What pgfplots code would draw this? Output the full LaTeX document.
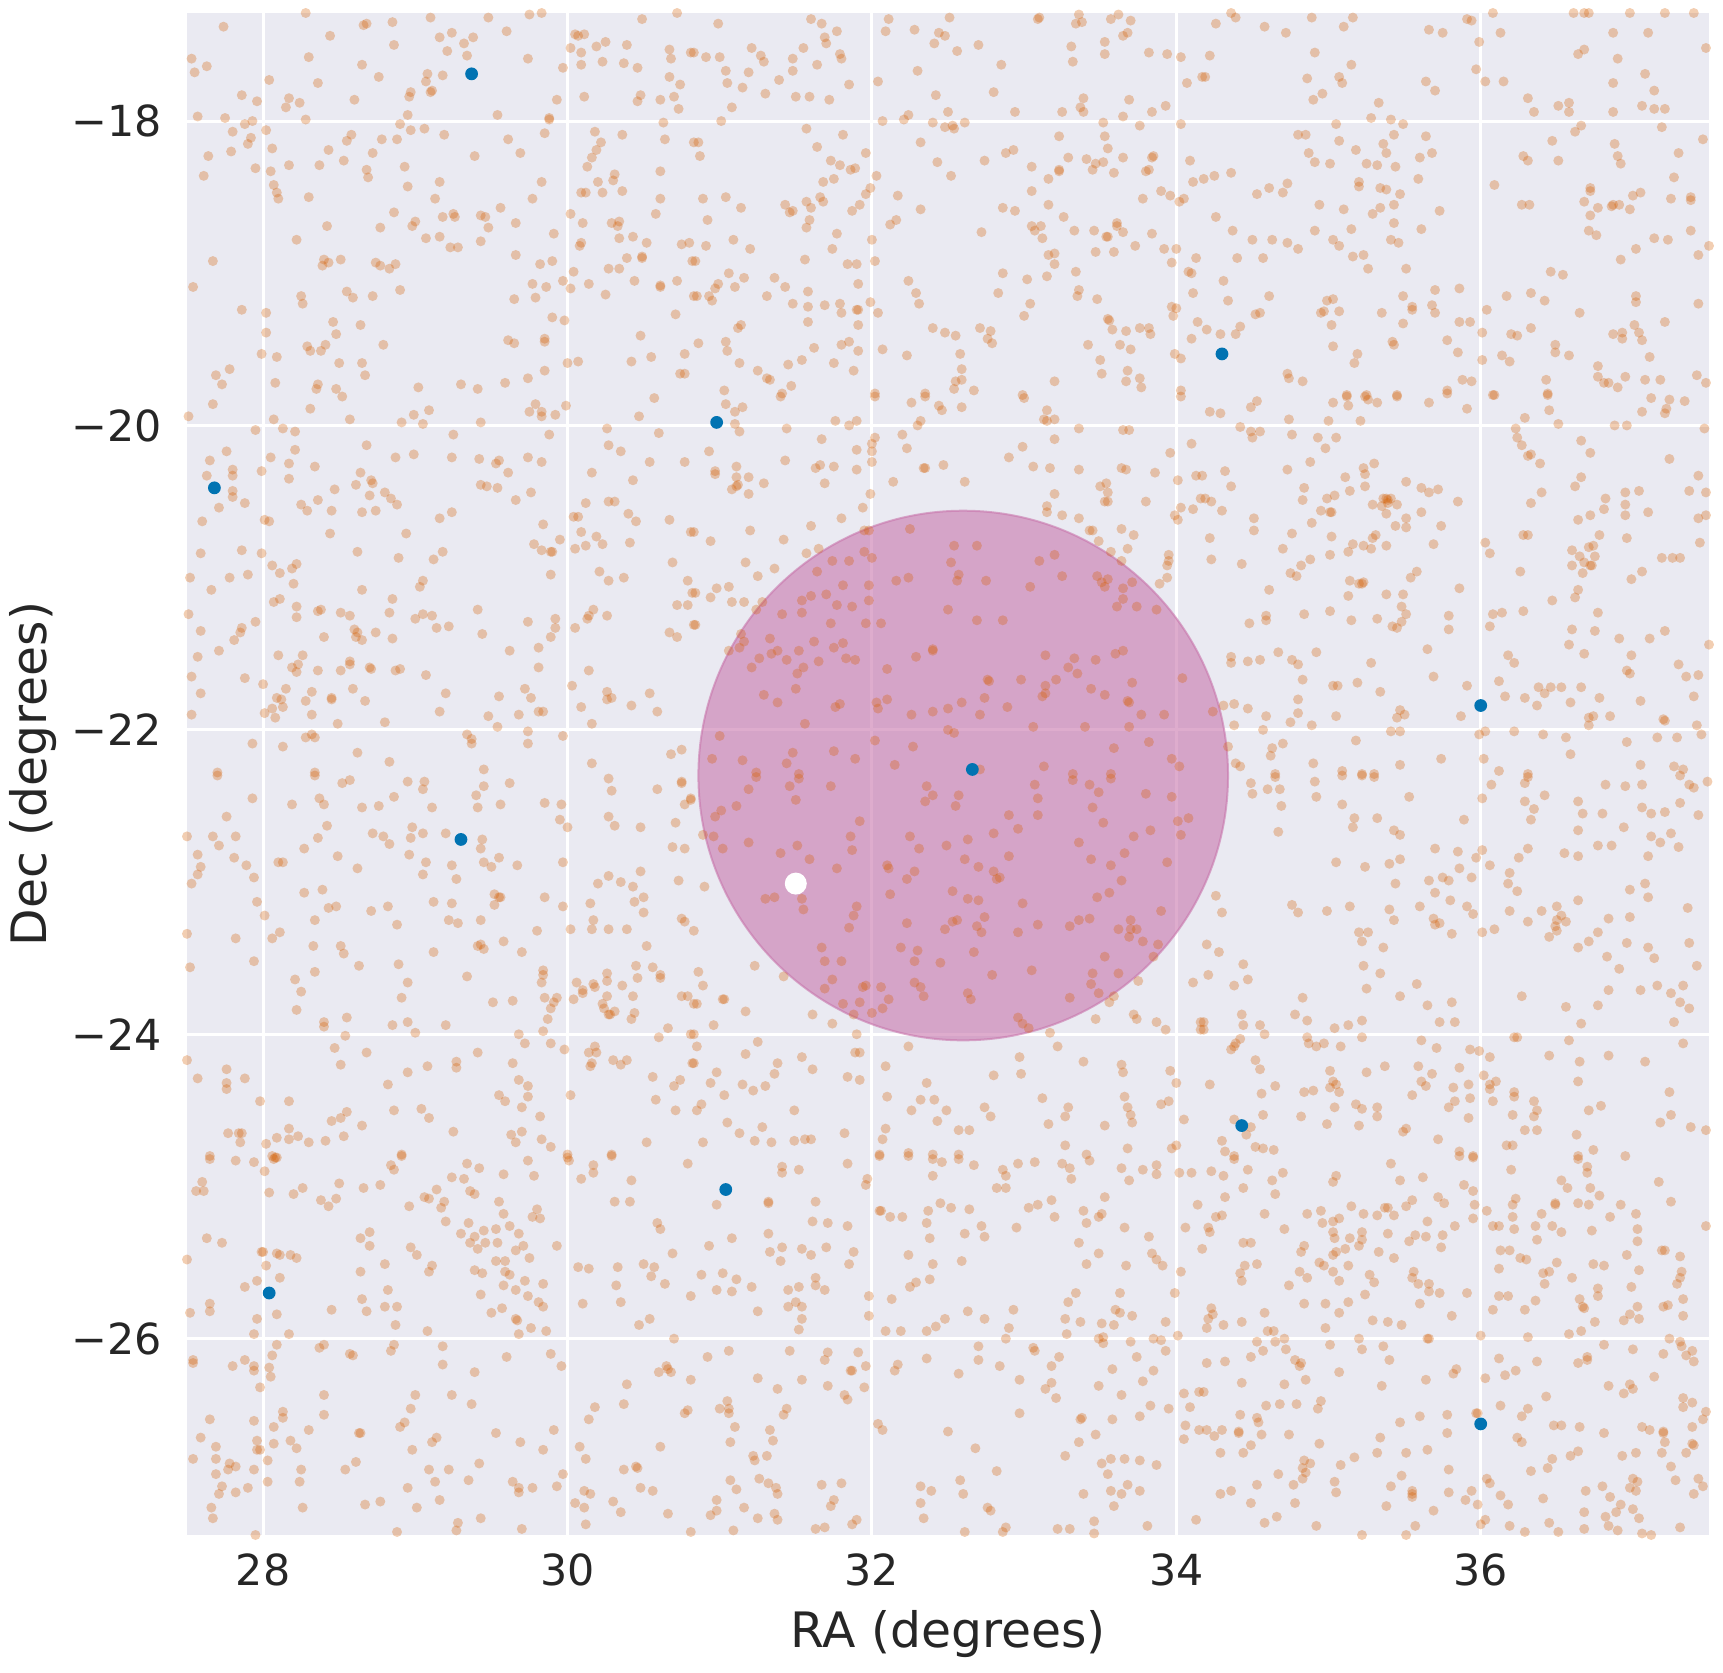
\documentclass[border=0pt]{standalone}
\usepackage{fontspec}
\setmainfont{DejaVu Sans}
\usepackage{pgfplots}
\pgfplotsset{compat=1.18}

\definecolor{sbbg}{HTML}{EAEAF2}
\definecolor{cbblue}{HTML}{0173B2}
\definecolor{cbverm}{HTML}{D55E00}
\definecolor{circcol}{RGB}{200,118,172}

\begin{document}
\begin{tikzpicture}
\begin{axis}[
  width=380.5pt, height=380.5pt, scale only axis,
  xmin=27.5, xmax=37.5, ymin=-27.29, ymax=-17.29,
  axis background/.style={fill=sbbg},
  axis line style={draw=none},
  major tick length=0pt,
  grid=major, major grid style={white, line width=0.75pt},
  xtick={28,30,32,34,36}, xticklabels={28,30,32,34,36},
  ytick={-26,-24,-22,-20,-18}, yticklabels={−26,−24,−22,−20,−18},
  tick label style={font=\fontsize{10.7}{12}\selectfont, text=black!85},
  xticklabel style={anchor=north, inner sep=0pt, yshift=-4.4pt},
  yticklabel style={anchor=east, inner sep=0pt, xshift=-6.1pt},
  xlabel={RA (degrees)}, ylabel={Dec (degrees)},
  label style={font=\fontsize{12.2}{14}\selectfont, text=black!85, inner sep=0pt},
  xlabel style={at={(axis description cs:0.5,-0.0742)}, anchor=base},
  ylabel style={at={(axis description cs:-0.1012,0.5)}, anchor=center},
  clip=true,
]

% search region
\addplot[only marks, mark=*, mark size=66.2pt, color=circcol,
  mark options={fill=circcol, fill opacity=0.6, draw opacity=0.6, line width=0.5pt}]
  coordinates {(32.60,-22.30)};

% field objects
\addplot[only marks, mark=*, mark size=1.25pt, color=cbverm,
  mark options={fill=cbverm, fill opacity=0.3, draw opacity=0}]
coordinates {
(28.28,-17.29) (27.74,-17.38) (28.68,-17.36) (28.66,-17.37) (28.85,-17.35) (29.10,-17.32) (29.48,-17.32) (29.75,-17.30) (29.83,-17.29) (30.49,-17.33) (30.72,-17.29)
(28.44,-17.44) (29.16,-17.45) (29.24,-17.42) (29.32,-17.49) (29.38,-17.45) (29.60,-17.41) (30.05,-17.43) (30.07,-17.44) (30.11,-17.43)
(28.86,-17.50) (30.02,-17.52) (30.19,-17.51) (30.25,-17.48) (30.39,-17.50) (30.67,-17.53) (30.81,-17.55)
(27.53,-17.59) (27.63,-17.64) (27.55,-17.68) (28.30,-17.58) (28.65,-17.63) (29.21,-17.54) (29.34,-17.57) (29.74,-17.59) (30.09,-17.55) (30.09,-17.63) (29.97,-17.65) (30.23,-17.61) (30.37,-17.62) (30.46,-17.65) (30.68,-17.59)
(28.76,-17.71) (29.08,-17.69) (29.07,-17.74) (29.18,-17.70) (28.04,-17.73) (28.36,-17.75) (30.67,-17.71) (30.74,-17.76)
(27.86,-17.83) (27.96,-17.87) (28.17,-17.85) (28.15,-17.91) (28.24,-17.88) (28.60,-17.86) (28.97,-17.81) (28.96,-17.84) (29.11,-17.80) (29.10,-17.81) (29.93,-17.86) (30.11,-17.84) (30.48,-17.83) (30.46,-17.87) (30.61,-17.86) (30.70,-17.84) (30.73,-17.92)
(27.57,-17.97) (27.75,-17.98) (27.88,-18.02) (27.93,-18.00) (28.28,-17.99) (28.95,-17.96) (29.54,-17.96) (29.88,-17.99) (29.88,-17.98) (30.63,-18.01)
(27.80,-18.07) (28.02,-18.06) (27.92,-18.11) (27.90,-18.15) (28.58,-18.09) (28.55,-18.13) (28.78,-18.12) (28.88,-18.12) (28.90,-18.02) (28.97,-18.06) (29.06,-18.05) (29.19,-18.09) (29.61,-18.12) (29.85,-18.08) (30.18,-18.07) (30.36,-18.09) (30.22,-18.14) (30.64,-18.12) (30.83,-18.14)
(27.64,-18.23) (27.79,-18.20) (28.06,-18.18) (28.43,-18.19) (28.72,-18.21) (29.39,-18.23) (29.69,-18.21) (30.19,-18.19) (30.16,-18.24)
(27.61,-18.36) (27.95,-18.31) (28.05,-18.33) (28.17,-18.29) (28.37,-18.29) (28.53,-18.26) (28.68,-18.32) (28.69,-18.37) (28.93,-18.30) (30.13,-18.30) (30.31,-18.35) (30.30,-18.39) (30.61,-18.33)
(28.07,-18.42) (28.09,-18.47) (28.10,-18.51) (28.95,-18.43) (29.16,-18.40) (29.83,-18.40) (30.20,-18.40) (30.09,-18.47) (30.12,-18.47) (30.23,-18.47) (30.36,-18.46)
(28.30,-18.50) (29.13,-18.51) (29.56,-18.57) (29.77,-18.51) (30.61,-18.51)
(28.86,-18.60) (28.77,-18.70) (28.42,-18.69) (29.00,-18.66) (28.98,-18.69) (29.18,-18.63) (29.25,-18.61) (29.26,-18.63) (29.43,-18.62) (29.46,-18.63) (29.48,-18.70) (29.66,-18.67) (30.02,-18.61) (30.10,-18.67) (30.29,-18.67) (30.33,-18.69) (30.34,-18.66) (30.58,-18.61)
(28.22,-18.78) (29.07,-18.77) (29.16,-18.76) (29.23,-18.83) (29.28,-18.83) (29.43,-18.79) (29.91,-18.74) (30.09,-18.80) (30.08,-18.82) (30.34,-18.77) (30.43,-18.76) (30.52,-18.80) (30.75,-18.81) (30.80,-18.80)
(27.67,-18.92) (28.40,-18.91) (28.39,-18.95) (28.43,-18.93) (28.51,-18.91) (28.74,-18.93) (28.77,-18.95) (28.83,-18.97) (28.87,-18.94) (29.66,-18.88) (29.82,-18.94) (29.90,-18.92) (30.27,-18.97) (30.34,-18.97) (30.39,-18.90) (30.49,-18.89) (30.49,-18.90) (30.82,-18.92)
(27.54,-19.09) (28.25,-19.15) (28.26,-19.20) (28.55,-19.12) (28.59,-19.16) (28.72,-19.15) (28.90,-19.11) (29.65,-19.17) (29.77,-19.07) (29.79,-19.16) (29.86,-19.09) (29.97,-19.05) (30.02,-19.10) (30.04,-18.99) (30.14,-19.07) (30.25,-19.14) (30.44,-19.05) (30.61,-19.08) (30.61,-19.09) (30.72,-19.05) (30.83,-19.15)
(27.86,-19.24) (28.02,-19.26) (28.46,-19.32) (28.48,-19.40) (28.64,-19.34) (29.90,-19.29) (29.98,-19.31) (30.71,-19.27)
(28.02,-19.39) (28.29,-19.48) (28.31,-19.51) (28.38,-19.51) (28.41,-19.47) (28.79,-19.47) (29.61,-19.44) (29.65,-19.46) (29.85,-19.43) (29.85,-19.45) (30.48,-19.41)
(27.99,-19.53) (28.09,-19.55) (28.50,-19.59) (28.65,-19.59) (30.00,-19.59) (30.07,-19.58) (30.42,-19.58) (30.55,-19.55) (30.77,-19.53)
(27.69,-19.67) (27.78,-19.63) (27.73,-19.73) (28.08,-19.72) (28.36,-19.73) (28.35,-19.76) (28.48,-19.76) (28.67,-19.67) (29.02,-19.75) (29.30,-19.73) (29.41,-19.76) (29.59,-19.72) (29.74,-19.69) (29.85,-19.64) (30.74,-19.66) (30.77,-19.66)
%
(30.99,-17.36) (31.60,-17.33) (31.67,-17.36) (31.77,-17.41) (31.69,-17.45) (31.70,-17.49) (32.11,-17.33) (32.09,-17.41) (32.28,-17.40) (32.44,-17.42) (32.48,-17.44) (32.41,-17.49) (32.51,-17.32) (32.56,-17.54) (32.70,-17.50)
(33.09,-17.33) (33.10,-17.32) (33.34,-17.36) (33.38,-17.35) (33.36,-17.30) (33.57,-17.33) (33.62,-17.30) (33.70,-17.34) (33.65,-17.44) (33.68,-17.42) (33.53,-17.48) (33.53,-17.56) (33.31,-17.51) (33.32,-17.61)
(30.83,-17.55) (30.91,-17.58) (31.00,-17.58) (31.21,-17.52) (31.27,-17.57) (31.29,-17.61) (31.48,-17.59) (31.55,-17.52) (31.64,-17.63) (31.79,-17.56) (31.80,-17.59)
(31.04,-17.67) (31.19,-17.68) (31.48,-17.67) (31.05,-17.75) (31.15,-17.78) (31.39,-17.73) (31.30,-17.82) (31.50,-17.84) (31.59,-17.84) (31.72,-17.86) (31.85,-17.76) (31.08,-17.91) (31.01,-18.00)
(32.04,-17.74) (32.30,-17.67) (32.85,-17.63) (32.42,-17.83) (32.80,-17.81) (32.50,-17.94) (32.94,-17.94) (33.25,-17.94) (33.39,-17.85) (33.37,-17.91) (33.39,-17.94) (33.69,-17.86) (33.65,-17.97) (33.84,-17.94) (33.93,-17.90)
(33.82,-17.55) (33.94,-17.56) (34.03,-17.58) (34.07,-17.75) (34.17,-17.71)
(32.07,-18.00) (32.21,-17.99) (32.24,-17.96) (32.40,-18.01) (32.48,-18.04) (32.53,-18.03) (32.54,-18.05) (32.61,-18.01) (33.52,-18.01) (33.53,-18.10) (33.55,-18.18) (33.76,-18.03) (34.03,-18.02)
(31.57,-18.05) (31.81,-18.09) (30.86,-18.14) (30.87,-18.23) (31.64,-18.17) (31.73,-18.26) (31.79,-18.29) (31.86,-18.32) (31.89,-18.31) (31.96,-18.21) (32.32,-18.14) (32.43,-18.27) (32.52,-18.36) (32.74,-18.26) (32.88,-18.21) (32.93,-18.19)
(33.05,-18.30) (33.23,-18.10) (33.29,-18.24) (33.23,-18.32) (33.23,-18.33) (33.16,-18.38) (33.41,-18.25) (33.47,-18.28) (33.45,-18.32) (33.52,-18.27) (33.59,-18.34) (33.65,-18.24) (33.85,-18.23) (33.84,-18.24) (33.80,-18.33) (33.82,-18.32) (34.09,-18.26) (34.11,-18.40)
(32.03,-18.36) (31.68,-18.40) (31.75,-18.38) (31.99,-18.44) (31.96,-18.48) (30.89,-18.51) (31.04,-18.50) (31.14,-18.57) (31.43,-18.55) (31.46,-18.60) (31.48,-18.59) (31.57,-18.53) (31.60,-18.57) (31.66,-18.50) (31.68,-18.53) (31.92,-18.55) (31.87,-18.59)
(30.92,-18.65) (31.59,-18.65) (31.57,-18.70) (32.17,-18.49) (32.32,-18.58) (32.16,-18.65) (32.12,-18.68) (32.86,-18.57) (32.94,-18.59) (33.05,-18.46) (33.16,-18.55) (33.26,-18.63)
(33.05,-18.69) (33.07,-18.72) (33.11,-18.69) (33.12,-18.77) (32.72,-18.73) (33.33,-18.72) (33.46,-18.72) (33.54,-18.76) (33.55,-18.76) (33.61,-18.67) (33.61,-18.69) (33.65,-18.73)
(33.78,-18.51) (33.90,-18.46) (33.96,-18.49) (34.02,-18.53) (34.05,-18.51) (33.84,-18.74) (33.73,-18.82) (33.47,-18.86) (33.59,-18.86) (33.92,-18.84) (34.00,-18.84) (33.97,-18.93) (34.13,-18.90) (34.08,-18.99) (34.10,-19.00) (34.11,-19.13)
(33.16,-18.88) (33.20,-18.87) (33.20,-18.94) (33.15,-19.02) (33.34,-18.99) (33.36,-19.11) (33.35,-19.15) (33.48,-19.17) (32.86,-19.00) (33.02,-19.04) (32.83,-19.13) (33.04,-19.20) (33.00,-19.28)
(31.09,-18.78) (30.91,-18.82) (31.20,-18.84) (31.77,-18.74) (31.74,-18.84) (32.00,-18.78) (31.56,-18.91) (31.84,-18.94) (31.90,-18.94) (32.02,-18.92) (30.84,-18.92)
(31.06,-19.00) (31.16,-19.03) (30.99,-19.07) (30.97,-19.10) (31.10,-19.09) (31.36,-19.03) (31.43,-19.09) (31.58,-19.12) (31.91,-19.07) (30.85,-19.15) (30.93,-19.15) (30.95,-19.18) (31.31,-19.15) (31.48,-19.20) (31.58,-19.22) (31.69,-19.21)
(31.79,-19.20) (31.80,-19.26) (31.90,-19.24) (31.91,-19.24) (31.99,-19.19) (32.04,-19.26) (31.58,-19.32) (31.91,-19.34) (32.24,-19.05) (32.29,-19.13) (32.31,-19.20)
(31.12,-19.36) (31.14,-19.34) (30.86,-19.46) (31.04,-19.45) (31.05,-19.51) (31.13,-19.59) (31.62,-19.49) (31.80,-19.47) (31.85,-19.45) (31.91,-19.51) (31.25,-19.64) (31.31,-19.69) (31.33,-19.70) (31.45,-19.60) (31.54,-19.57) (31.75,-19.59) (31.88,-19.64) (31.03,-19.77) (31.41,-19.79) (31.47,-19.74)
(32.07,-19.50) (32.23,-19.54) (32.40,-19.36) (32.48,-19.39) (32.55,-19.41) (32.71,-19.36) (32.78,-19.38) (32.76,-19.43) (32.79,-19.46) (32.58,-19.53) (32.59,-19.63) (32.55,-19.71) (32.59,-19.70) (32.54,-19.76) (32.67,-19.77) (32.02,-19.79) (32.35,-19.79)
(33.20,-19.71) (33.42,-19.47) (33.50,-19.57) (33.51,-19.66) (33.55,-19.30) (33.56,-19.31) (33.58,-19.37) (33.67,-19.38) (33.63,-19.47) (33.70,-19.50) (33.76,-19.36) (33.82,-19.36) (33.83,-19.40) (33.68,-19.64) (33.67,-19.71) (33.76,-19.69) (33.77,-19.75)
(33.97,-19.22) (34.00,-19.23) (33.98,-19.28) (33.99,-19.53) (34.03,-19.56) (34.03,-19.77) (34.14,-19.32) (34.10,-19.43) (32.99,-19.80)
%
(34.26,-17.36) (34.39,-17.32) (34.36,-17.29) (34.58,-17.38) (34.72,-17.42) (34.89,-17.32) (35.10,-17.38) (35.16,-17.32) (35.66,-17.40) (35.75,-17.42) (35.91,-17.33) (35.94,-17.34) (36.08,-17.29) (36.13,-17.42) (35.99,-17.48)
(36.61,-17.29) (36.68,-17.29) (36.71,-17.29) (36.98,-17.29) (37.21,-17.29) (37.40,-17.29) (36.87,-17.42) (37.10,-17.42) (36.64,-17.56) (36.68,-17.53) (36.90,-17.59) (37.48,-17.52)
(34.22,-17.57) (34.19,-17.71) (34.91,-17.55) (35.15,-17.63) (35.07,-17.71) (35.09,-17.75) (34.86,-17.72) (34.96,-17.82) (34.90,-17.86) (35.64,-17.74) (35.70,-17.80) (35.97,-17.66) (36.03,-17.74) (36.15,-17.74) (36.87,-17.75) (37.08,-17.69) (37.14,-17.80)
(36.31,-17.85) (36.35,-17.94) (36.51,-17.90) (36.58,-17.88) (36.58,-17.94) (36.87,-17.94) (37.06,-17.90) (37.14,-17.92) (37.21,-17.92)
(35.33,-17.88) (35.28,-17.98) (35.41,-17.99) (35.49,-18.02) (35.05,-18.02) (34.80,-18.09) (34.85,-18.09) (35.07,-18.13) (35.43,-18.09) (35.64,-18.10) (35.36,-18.15) (35.38,-18.21) (35.18,-18.19) (34.87,-18.21) (34.91,-18.27) (35.01,-18.28)
(35.25,-18.28) (35.32,-18.29) (35.44,-18.30) (35.60,-18.24) (35.68,-18.21) (36.66,-18.03) (36.62,-18.07) (36.47,-18.13) (36.28,-18.23) (36.31,-18.26) (36.51,-18.26) (36.88,-18.15) (36.90,-18.23) (36.92,-18.28) (37.19,-18.04) (37.30,-18.21) (37.46,-18.12)
(34.18,-18.38) (34.25,-18.36) (34.36,-18.34) (34.53,-18.48) (34.61,-18.44) (34.70,-18.47) (34.73,-18.41) (35.20,-18.40) (35.20,-18.43) (35.34,-18.44) (35.38,-18.45) (35.47,-18.48) (35.59,-18.38) (35.43,-18.55) (35.34,-18.57) (35.29,-18.61) (35.10,-18.58) (34.94,-18.55) (35.73,-18.59) (36.09,-18.42) (37.27,-18.37)
(36.72,-18.44) (36.72,-18.46) (36.68,-18.53) (36.27,-18.55) (36.32,-18.55) (36.77,-18.57) (36.86,-18.56) (36.87,-18.55) (36.91,-18.55) (36.98,-18.58) (37.00,-18.49) (37.05,-18.47) (37.25,-18.51) (37.38,-18.50) (37.38,-18.52) (36.72,-18.62) (36.71,-18.72) (36.76,-18.75)
(34.26,-18.63) (34.37,-18.72) (34.50,-18.78) (34.63,-18.78) (34.73,-18.80) (34.80,-18.84) (34.91,-18.72) (35.03,-18.78) (35.07,-18.82) (35.15,-18.71) (35.16,-18.89) (35.23,-18.88) (35.26,-18.97) (35.41,-18.78) (35.46,-18.80) (35.43,-18.67) (35.61,-18.71) (35.51,-18.97) (34.40,-18.90) (34.57,-18.90)
(36.46,-18.99) (36.54,-19.01) (36.92,-18.91) (37.02,-18.84) (37.14,-18.77) (37.23,-18.78) (37.38,-18.72) (37.43,-18.88) (37.50,-18.82)
(34.31,-19.05) (34.34,-19.18) (34.61,-19.15) (34.52,-19.27) (34.55,-19.26) (34.20,-19.37) (34.29,-19.40) (34.39,-19.40) (34.42,-19.35) (34.99,-19.18) (35.03,-19.17) (34.95,-19.26) (34.97,-19.25) (35.07,-19.25) (35.02,-19.34)
(35.35,-19.26) (35.49,-19.15) (35.55,-19.22) (35.55,-19.24) (35.49,-19.33) (35.68,-19.21) (35.70,-19.26) (35.70,-19.11) (35.86,-19.10) (35.86,-19.32) (35.93,-19.32) (36.04,-19.24) (36.01,-19.39) (36.17,-19.15) (36.33,-19.13) (36.42,-19.18) (36.65,-19.26) (36.33,-19.36) (36.20,-19.40) (36.24,-19.41)
(37.02,-19.15) (37.02,-19.19) (37.21,-19.32) (37.43,-19.20) (37.01,-19.34) (37.04,-19.39) (37.06,-19.44) (36.87,-19.40) (36.93,-19.39) (36.93,-19.43) (37.11,-19.55)
(35.03,-19.48) (35.19,-19.53) (35.17,-19.59) (35.42,-19.45) (35.43,-19.47) (35.78,-19.44) (35.85,-19.52) (36.01,-19.57) (36.14,-19.54) (36.19,-19.58) (36.49,-19.47) (36.49,-19.52) (36.58,-19.54) (36.77,-19.61) (36.77,-19.68) (36.81,-19.72) (36.84,-19.72) (36.90,-19.75) (36.95,-19.68) (37.08,-19.70) (37.18,-19.70) (37.42,-19.67) (37.48,-19.72)
(34.73,-19.66) (34.74,-19.69) (34.83,-19.71) (35.88,-19.70) (35.94,-19.71) (35.78,-19.77) (36.43,-19.70) (35.12,-19.80) (35.25,-19.80) (35.45,-19.80) (36.08,-19.80) (36.44,-19.79)
%
(27.67,-19.86) (27.51,-19.94) (28.31,-19.89) (28.07,-19.96) (28.13,-20.02) (28.21,-20.04) (27.95,-20.03) (28.57,-19.96) (28.52,-19.81) (28.91,-19.98) (28.99,-19.93) (29.05,-19.99) (29.09,-19.90) (29.43,-19.98)
(29.79,-19.86) (29.75,-19.91) (29.83,-19.91) (29.83,-19.94) (29.92,-19.93) (29.99,-19.87) (29.88,-20.06) (30.47,-19.94) (30.57,-19.82) (30.26,-20.02) (30.60,-20.05) (30.27,-20.13) (30.35,-20.17)
(27.76,-20.17) (27.65,-20.23) (27.80,-20.29) (27.63,-20.33) (27.80,-20.33) (27.80,-20.43) (27.80,-20.47) (27.88,-20.51) (27.71,-20.54) (27.60,-20.63) (27.99,-20.30) (28.05,-20.21) (28.21,-20.16) (28.17,-20.25) (28.17,-20.35) (28.34,-20.27)
(28.68,-20.13) (28.87,-20.21) (28.99,-20.19) (29.24,-20.21) (29.25,-20.06) (29.42,-20.22) (29.55,-20.23) (29.53,-20.25) (29.61,-20.31) (29.74,-20.21) (29.83,-20.24) (30.16,-20.31) (30.54,-20.24) (30.77,-20.24) (30.43,-20.36)
(28.64,-20.31) (28.61,-20.39) (28.71,-20.36) (28.72,-20.38) (28.70,-20.46) (28.80,-20.44) (28.84,-20.48) (28.88,-20.52) (28.47,-20.42) (28.36,-20.49) (28.25,-20.52) (28.29,-20.56) (28.45,-20.56) (28.65,-20.57) (28.74,-20.56)
(29.43,-20.39) (29.47,-20.40) (29.54,-20.41) (29.66,-20.49) (29.76,-20.44) (30.12,-20.51) (30.27,-20.50) (30.31,-20.50) (29.16,-20.61) (29.24,-20.57) (29.84,-20.65) (30.04,-20.60) (30.07,-20.60) (30.40,-20.58) (30.45,-20.63) (30.67,-20.62)
(28.01,-20.62) (28.04,-20.63) (28.44,-20.71) (28.94,-20.71) (30.09,-20.70) (30.19,-20.73) (30.23,-20.78) (30.12,-20.79) (30.05,-20.81) (30.41,-20.77) (30.81,-20.70) (29.78,-20.78) (29.83,-20.82) (29.89,-20.83) (29.90,-20.83) (29.95,-20.75) (29.89,-20.98)
(27.86,-20.82) (27.99,-20.84) (27.59,-20.84) (28.62,-20.83) (28.89,-20.87) (29.12,-20.88) (29.18,-20.83) (28.06,-20.92) (28.11,-20.97) (28.19,-20.94) (28.22,-20.91) (28.20,-21.04) (27.78,-21.00) (27.90,-20.98) (27.52,-21.00) (27.66,-21.08)
(28.65,-21.08) (29.05,-21.02) (29.03,-21.06) (28.85,-21.14) (30.21,-20.96) (30.27,-21.02) (30.37,-21.00) (30.69,-20.90) (30.79,-21.02) (30.82,-21.10) (30.72,-21.18) (30.79,-21.18)
(28.07,-21.16) (28.11,-21.14) (28.22,-21.19) (28.22,-21.26) (28.36,-21.22) (28.38,-21.21) (28.51,-21.23) (28.57,-21.25) (28.83,-21.23) (29.00,-21.27) (29.05,-21.24) (29.11,-21.25) (29.41,-21.21) (29.92,-21.27) (29.92,-21.33) (29.89,-21.39) (29.74,-21.29) (30.05,-21.33)
(30.17,-21.21) (30.14,-21.25) (30.13,-21.27) (30.26,-21.25) (30.83,-21.31) (27.51,-21.24) (27.59,-21.35) (27.86,-21.33) (27.85,-21.36) (27.81,-21.41) (27.95,-21.29) (27.71,-21.48) (27.57,-21.52) (27.53,-21.65) (27.59,-21.76) (27.53,-21.90) (27.88,-21.66) (28.00,-21.70)
(28.60,-21.34) (28.62,-21.36) (28.61,-21.39) (28.65,-21.41) (28.74,-21.36) (28.85,-21.40) (28.40,-21.39) (29.14,-21.33) (29.22,-21.32) (29.44,-21.37) (29.62,-21.48) (29.81,-21.46) (29.81,-21.59) (30.67,-21.36) (30.72,-21.39) (30.14,-21.61)
(28.10,-21.51) (28.26,-21.51) (28.19,-21.59) (28.23,-21.57) (28.22,-21.62) (28.36,-21.61) (28.51,-21.61) (28.57,-21.55) (28.57,-21.57) (28.70,-21.59) (28.71,-21.60) (28.87,-21.61) (28.90,-21.60) (29.07,-21.64)
(28.15,-21.73) (28.09,-21.79) (28.12,-21.80) (28.13,-21.85) (28.06,-21.86) (28.01,-21.89) (28.08,-21.92) (28.28,-21.81) (28.32,-21.75) (28.32,-21.90) (28.45,-21.80) (28.45,-21.79) (28.59,-21.73) (28.67,-21.81) (28.49,-21.96) (28.80,-21.95)
(29.16,-21.88) (29.20,-21.76) (29.48,-21.91) (29.55,-21.78) (29.54,-21.98) (29.68,-21.90) (29.72,-21.73) (29.76,-21.79) (29.81,-21.88) (29.84,-21.88) (29.74,-22.01) (29.74,-22.09) (29.97,-22.04) (30.03,-21.71) (30.09,-21.85) (30.16,-21.96)
(30.26,-21.75) (30.26,-21.80) (30.29,-21.79) (30.42,-21.84) (30.54,-21.76) (30.59,-21.88) (29.34,-22.03) (29.37,-22.06) (29.37,-22.09) (27.93,-22.09) (28.13,-22.11) (28.28,-22.05) (28.32,-22.03) (28.34,-22.05) (28.62,-22.15) (28.83,-22.21) (29.45,-22.26) (30.16,-22.22) (30.68,-22.16) (30.75,-22.13) (27.70,-22.28) (28.34,-22.28)
%
(31.04,-19.86) (31.10,-19.91) (31.15,-19.88) (31.40,-19.81) (31.10,-19.99) (31.13,-20.04) (30.93,-20.17) (31.11,-20.27) (30.97,-20.30) (30.97,-20.32) (31.11,-20.34) (31.19,-20.34) (31.29,-20.38) (31.08,-20.42) (31.11,-20.40) (31.12,-20.39) (31.19,-20.45)
(31.44,-20.02) (31.67,-20.09) (31.43,-20.23) (31.63,-20.28) (31.66,-20.26) (31.75,-20.27) (31.69,-20.38) (31.76,-19.97) (31.85,-20.00) (31.90,-19.97) (31.90,-20.16) (31.90,-20.29) (32.00,-20.12) (32.02,-20.08) (32.00,-20.17) (32.00,-20.24) (31.99,-20.45) (31.94,-20.54)
(32.02,-19.81) (32.26,-19.85) (32.35,-19.81) (32.44,-19.87) (32.46,-19.90) (32.59,-19.88) (32.32,-19.97) (32.30,-20.00) (32.20,-20.06) (32.23,-20.15) (32.34,-20.28) (32.35,-20.28) (32.47,-20.26) (32.14,-20.37) (32.61,-20.37)
(33.00,-19.82) (33.15,-19.90) (33.13,-19.96) (33.15,-19.97) (33.20,-19.96) (33.20,-20.09) (33.36,-20.02) (32.99,-20.14) (32.90,-20.21) (33.06,-20.27) (33.17,-20.28) (33.36,-20.29) (33.20,-20.45) (33.15,-20.53) (33.15,-20.57) (33.25,-20.59) (33.36,-20.61)
(33.50,-20.40) (33.54,-20.38) (33.55,-20.44) (33.53,-20.50) (33.55,-20.50) (33.65,-20.03) (33.69,-20.03) (33.64,-20.28) (33.67,-20.29) (33.86,-20.31) (33.80,-20.50) (33.96,-20.18) (34.01,-20.36) (34.03,-19.81) (34.10,-20.12) (34.13,-20.33)
(34.03,-20.54) (33.99,-20.59) (34.01,-20.62) (34.11,-20.55) (34.16,-20.48) (33.43,-20.69) (33.45,-20.69) (33.49,-20.76) (33.64,-20.68) (33.72,-20.72) (33.68,-20.81) (33.57,-20.83) (33.64,-20.89) (33.95,-20.85) (33.95,-20.89) (33.94,-20.92) (33.94,-21.00) (33.89,-21.04)
(30.83,-20.70) (30.94,-20.76) (31.20,-20.69) (31.42,-20.75) (31.60,-20.66) (31.80,-20.61) (31.17,-20.90) (31.25,-20.99) (31.36,-20.94) (31.57,-20.84) (31.65,-20.81) (30.98,-21.07) (31.06,-21.06) (30.94,-21.13) (31.08,-21.16) (31.16,-21.16) (31.28,-21.16) (31.24,-21.21) (30.84,-21.10) (30.84,-21.31)
(31.95,-20.69) (31.98,-20.69) (32.25,-20.68) (31.95,-20.83) (32.00,-20.87) (31.74,-20.89) (31.85,-20.89) (31.64,-20.96) (32.54,-20.79) (32.69,-20.79) (32.52,-20.90) (32.57,-20.98) (32.56,-21.02) (32.75,-21.02)
(33.10,-20.89) (33.20,-20.85) (33.25,-20.99) (33.04,-21.06) (33.48,-20.99) (33.51,-21.03) (33.55,-21.01) (33.53,-21.06) (33.65,-21.07) (33.71,-21.03) (33.65,-21.14) (33.61,-21.19) (33.74,-21.19) (33.87,-21.21)
(32.16,-21.02) (32.24,-21.00) (31.98,-21.05) (31.98,-21.15) (31.81,-21.05) (31.70,-21.11) (31.60,-21.12) (31.54,-21.15) (31.77,-21.18) (31.87,-21.19) (31.54,-21.23) (31.41,-21.24) (31.73,-21.30) (31.96,-21.30) (32.06,-21.30) (32.50,-21.21) (32.69,-21.28) (32.86,-21.28)
(31.14,-21.37) (31.16,-21.42) (31.13,-21.46) (31.06,-21.48) (31.33,-21.40) (31.38,-21.48) (31.34,-21.50) (31.26,-21.53) (31.21,-21.59) (31.44,-21.54) (31.52,-21.48) (31.55,-21.59) (31.51,-21.63) (31.62,-21.42) (31.65,-21.55) (31.75,-21.46) (31.81,-21.43)
(31.83,-21.53) (31.89,-21.54) (32.10,-21.60) (32.29,-21.52) (32.40,-21.48) (32.40,-21.47) (31.50,-21.73) (31.29,-21.77) (31.38,-21.82) (31.56,-21.96) (31.00,-22.04) (30.95,-22.19) (31.15,-22.20) (31.24,-22.28) (31.44,-22.22) (31.48,-22.15) (31.75,-22.14) (31.89,-22.19)
(31.76,-21.85) (31.79,-21.83) (32.03,-21.82) (32.04,-21.86) (32.10,-21.80) (32.02,-22.07) (32.26,-21.90) (32.27,-22.11) (32.15,-22.23) (32.40,-21.88) (32.50,-21.86) (32.59,-21.82) (32.50,-22.00) (32.54,-22.02) (32.71,-21.90) (32.74,-21.79) (32.76,-21.67) (32.77,-21.68)
(32.89,-21.85) (32.98,-21.67) (33.14,-21.51) (33.06,-21.98) (33.14,-21.71) (33.14,-21.76) (33.12,-21.78) (33.21,-21.67) (33.29,-21.59) (33.33,-21.53) (33.35,-21.63) (33.47,-21.54) (33.60,-21.50) (33.65,-21.48) (33.44,-21.73) (33.53,-21.77) (33.71,-21.69)
(33.68,-21.81) (33.69,-21.82) (33.40,-21.98) (33.69,-21.98) (33.77,-21.90) (33.92,-21.90) (34.04,-21.66) (33.82,-22.08) (33.59,-22.12) (33.97,-22.19) (34.02,-22.24) (33.13,-22.24) (33.32,-22.29) (33.57,-22.29) (32.71,-22.26) (31.52,-22.29)
%
(34.22,-19.91) (34.29,-19.92) (34.49,-19.88) (34.53,-19.84) (34.74,-19.96) (35.00,-19.97) (35.03,-19.85) (35.12,-19.81) (35.13,-19.87) (35.24,-19.81) (35.26,-19.83) (35.32,-19.85) (35.21,-19.97) (35.45,-19.81) (35.66,-19.85) (35.78,-19.79) (35.91,-19.89)
(36.09,-19.80) (36.29,-19.95) (36.44,-19.80) (36.45,-19.90) (36.51,-19.99) (36.23,-20.02) (36.88,-20.00) (36.96,-20.00) (37.06,-19.91) (37.12,-19.82) (37.24,-19.83) (37.22,-19.89) (37.21,-19.92) (37.34,-19.84) (37.47,-20.02)
(34.42,-20.01) (34.49,-20.04) (34.55,-20.04) (34.50,-20.08) (34.76,-20.06) (34.93,-20.08) (35.05,-20.08) (34.98,-20.15) (36.24,-20.08) (36.27,-20.13) (36.31,-20.20) (36.33,-20.19) (36.39,-20.25) (36.66,-20.10) (36.72,-20.18) (37.24,-20.22) (37.43,-20.33) (37.37,-20.43) (37.48,-20.44)
(34.73,-20.29) (34.88,-20.24) (34.32,-20.30) (34.36,-20.40) (34.17,-20.33) (34.19,-20.48) (34.23,-20.50) (34.30,-20.56) (34.51,-20.61) (34.51,-20.69) (34.22,-20.74) (34.23,-20.88) (34.43,-20.91)
(34.84,-20.41) (34.83,-20.49) (34.99,-20.48) (35.04,-20.46) (34.95,-20.56) (35.01,-20.57) (35.02,-20.57) (34.89,-20.64) (35.11,-20.34) (35.14,-20.43) (35.23,-20.28) (35.30,-20.25) (35.24,-20.32) (35.24,-20.40) (35.29,-20.52)
(35.36,-20.48) (35.38,-20.48) (35.41,-20.48) (35.35,-20.53) (35.39,-20.51) (35.45,-20.52) (35.38,-20.58) (35.39,-20.49) (35.51,-20.37) (35.61,-20.41) (35.66,-20.44) (35.72,-20.42) (35.61,-20.57) (35.51,-20.61) (35.51,-20.67) (35.44,-20.66) (35.74,-20.66) (35.85,-20.50) (35.69,-20.78)
(36.33,-20.51) (36.40,-20.44) (36.62,-20.40) (36.66,-20.34) (36.64,-20.62) (36.72,-20.59) (36.81,-20.55) (36.82,-20.48) (36.95,-20.44) (36.95,-20.52) (36.95,-20.59) (37.04,-20.43) (37.10,-20.57) (37.43,-20.61) (37.48,-20.59) (37.44,-20.77)
(34.70,-20.81) (34.76,-20.71) (35.02,-20.73) (35.01,-20.85) (34.88,-20.88) (34.82,-20.92) (34.75,-20.97) (34.79,-20.99) (35.13,-20.83) (35.16,-20.78) (35.23,-20.79) (35.28,-20.81) (35.29,-20.74) (35.31,-20.72) (35.38,-20.79)
(34.61,-21.08) (35.14,-21.02) (35.20,-21.04) (35.22,-21.04) (35.23,-21.03) (35.13,-21.12) (35.38,-21.11) (35.49,-21.11) (35.54,-21.00) (35.58,-20.96) (35.86,-21.07) (36.03,-20.77) (36.06,-20.84) (36.26,-20.96) (36.28,-20.72) (36.31,-20.72) (36.47,-21.15)
(36.60,-20.82) (36.65,-20.86) (36.71,-20.80) (36.74,-20.79) (36.75,-20.86) (36.60,-20.92) (36.68,-20.90) (36.72,-20.92) (36.73,-20.92) (36.67,-20.97) (36.78,-20.72) (36.96,-20.74) (36.99,-21.01) (37.06,-20.96) (37.19,-20.87) (37.26,-20.87) (37.31,-20.87) (36.64,-21.08) (36.62,-21.13)
(34.59,-21.25) (34.59,-21.28) (34.48,-21.30) (34.84,-21.24) (35.01,-21.22) (35.15,-21.28) (35.32,-21.27) (35.48,-21.19) (35.51,-21.24) (35.48,-21.29) (35.42,-21.32) (35.45,-21.33) (35.79,-21.25) (35.79,-21.34) (36.08,-21.24) (36.14,-21.23) (36.28,-21.22) (36.06,-21.32)
(36.77,-21.23) (36.60,-21.34) (36.75,-21.35) (36.58,-21.44) (36.68,-21.50) (36.91,-21.40) (37.11,-21.40) (37.21,-21.35) (37.50,-21.44) (35.65,-21.47)
(34.36,-21.52) (34.36,-21.56) (34.47,-21.55) (34.55,-21.54) (34.67,-21.49) (34.76,-21.54) (34.80,-21.57) (34.92,-21.49) (34.83,-21.67) (35.28,-21.56) (35.03,-21.71) (35.06,-21.71) (35.19,-21.69) (35.34,-21.75) (35.69,-21.65) (35.91,-21.71)
(36.18,-21.51) (36.22,-21.56) (36.12,-21.68) (36.16,-21.78) (36.29,-21.79) (36.37,-21.84) (36.38,-21.72) (36.42,-21.76) (36.46,-21.72) (36.53,-21.72) (36.59,-21.82) (36.66,-21.72) (36.78,-21.79) (36.99,-21.51) (36.96,-21.61) (36.98,-21.63) (37.05,-21.81) (37.30,-21.57) (37.35,-21.65) (37.43,-21.64) (37.40,-21.78)
(34.31,-21.84) (34.38,-21.83) (34.47,-21.86) (34.24,-21.88) (34.59,-21.91) (34.38,-21.97) (34.57,-22.00) (34.80,-21.80) (34.80,-21.89) (34.75,-21.95) (34.89,-21.97) (35.05,-21.91) (35.45,-21.92) (35.47,-21.87) (35.50,-21.90) (35.41,-22.01) (35.47,-22.01) (35.87,-21.91)
(36.71,-21.92) (36.74,-21.91) (36.71,-21.97) (36.85,-21.91) (37.20,-21.93) (37.21,-21.94) (37.42,-21.97) (35.99,-22.03) (36.03,-22.01) (36.22,-22.01) (36.41,-22.03) (36.56,-22.05) (36.59,-22.16) (36.96,-22.08) (37.16,-22.05) (37.29,-22.05) (37.45,-22.03)
(34.34,-22.11) (34.63,-22.12) (34.62,-22.17) (34.70,-22.09) (34.39,-22.22) (34.42,-22.24) (35.18,-22.07) (34.90,-22.22) (35.47,-22.23) (35.74,-22.19) (36.02,-22.19) (36.12,-22.27) (36.31,-22.29) (37.05,-22.23) (37.27,-22.24) (37.33,-22.26) (34.65,-22.29) (35.09,-22.27) (35.22,-22.29) (35.30,-22.29)
%
(27.70,-22.30) (28.34,-22.30) (28.52,-22.35) (28.57,-22.33) (28.95,-22.34) (29.06,-22.34) (29.05,-22.39) (29.45,-22.37) (29.40,-22.43) (29.41,-22.51) (29.62,-22.35) (29.56,-22.49) (29.85,-22.48) (29.96,-22.49) (29.95,-22.59) (30.00,-22.64)
(30.27,-22.32) (30.29,-22.40) (30.59,-22.39) (30.75,-22.34) (30.75,-22.35) (30.81,-22.46) (30.77,-22.49) (27.93,-22.45) (28.19,-22.49) (28.37,-22.45) (28.40,-22.49) (28.65,-22.51) (28.76,-22.50) (28.86,-22.44) (29.11,-22.51) (27.76,-22.57)
(27.50,-22.70) (27.67,-22.70) (27.71,-22.76) (27.82,-22.70) (27.57,-22.82) (27.59,-22.90) (27.57,-22.95) (27.53,-23.01) (27.81,-22.84) (27.89,-22.89) (27.94,-22.97) (28.10,-22.87) (28.13,-22.87) (28.27,-22.78) (28.36,-22.71) (28.42,-22.63) (28.49,-22.83) (28.62,-22.91)
(28.72,-22.68) (28.79,-22.70) (28.83,-22.75) (28.98,-22.64) (28.97,-22.71) (29.05,-22.68) (28.96,-22.82) (29.20,-22.68) (29.07,-22.87) (29.05,-22.95) (29.24,-22.89) (29.27,-22.98) (29.44,-22.72) (29.43,-22.78) (29.45,-22.87) (29.50,-22.90) (29.55,-22.84) (29.67,-22.89) (29.97,-22.87)
(30.27,-22.57) (30.31,-22.63) (30.48,-22.64) (30.71,-22.61) (30.69,-22.77) (30.77,-22.78) (30.48,-22.93) (30.27,-22.96) (30.35,-23.00) (30.43,-23.03) (30.20,-23.01) (30.73,-22.99) (30.81,-22.45)
(27.50,-23.34) (27.52,-23.56) (27.82,-23.37) (27.94,-23.52) (27.96,-23.13) (28.01,-23.22) (28.06,-23.37) (28.11,-23.33) (28.27,-23.07) (28.39,-23.05) (28.43,-23.17) (28.48,-23.16) (28.34,-23.25) (28.33,-23.42) (28.51,-23.42) (28.53,-23.47) (28.63,-23.55) (28.34,-23.59) (28.21,-23.64) (28.25,-23.72) (28.22,-23.84)
(28.71,-23.19) (28.82,-23.16) (28.88,-23.28) (29.12,-23.13) (29.24,-23.14) (29.22,-23.25) (29.28,-23.27) (29.43,-23.25) (29.52,-23.08) (29.55,-23.10) (29.56,-23.10) (29.52,-23.15) (29.12,-23.46) (28.89,-23.54) (28.95,-23.66) (28.91,-23.76)
(29.41,-23.42) (29.43,-23.41) (29.45,-23.44) (29.58,-23.39) (29.70,-23.46) (29.34,-23.62) (29.80,-23.32) (29.85,-23.10) (29.97,-23.16) (30.02,-23.31) (30.15,-23.14) (30.17,-23.25) (30.16,-23.31) (30.27,-23.31) (30.39,-23.31) (30.50,-23.10) (30.50,-23.20) (30.44,-23.13) (30.52,-23.42) (30.75,-23.24) (30.77,-23.26)
(29.84,-23.58) (29.84,-23.61) (29.83,-23.66) (29.51,-23.79) (29.64,-23.78) (29.85,-23.76) (29.91,-23.79) (29.93,-23.76) (29.89,-23.83) (29.87,-23.90) (29.84,-23.98) (30.04,-23.77) (30.06,-23.66) (30.10,-23.71) (30.10,-23.73) (30.17,-23.67) (30.18,-23.69)
(30.26,-23.60) (30.26,-23.65) (30.26,-23.75) (30.23,-23.80) (30.24,-23.83) (30.27,-23.87) (30.28,-23.87) (30.31,-23.85) (30.36,-23.68) (30.43,-23.75) (30.45,-23.55) (30.46,-23.63) (30.44,-23.86) (30.42,-23.90) (30.56,-23.56) (30.61,-23.61) (30.61,-23.63) (30.75,-23.75) (30.79,-23.75) (30.83,-23.80)
(28.40,-23.92) (28.40,-23.95) (28.55,-23.89) (28.54,-24.01) (28.85,-23.94) (28.95,-23.92) (29.00,-23.99) (29.20,-23.94) (29.68,-24.00) (29.72,-24.06) (29.89,-24.06) (29.98,-24.10) (30.66,-23.96) (30.60,-24.02) (30.81,-24.00)
(30.18,-24.08) (30.14,-24.12) (30.19,-24.12) (30.16,-24.19) (30.15,-24.21) (30.30,-24.17) (30.35,-24.20) (30.39,-24.17) (30.56,-24.28) (30.70,-24.34) (30.74,-24.30) (30.82,-24.19) (30.58,-24.43) (30.71,-24.50)
(27.50,-24.17) (27.76,-24.23) (27.76,-24.32) (27.76,-24.36) (27.57,-24.29) (27.88,-24.29) (27.98,-24.44) (28.17,-24.44) (28.47,-24.09) (28.51,-24.20) (28.68,-24.12) (28.82,-24.33) (28.95,-24.25) (29.08,-24.21) (29.27,-24.18) (29.27,-24.22) (29.41,-24.12) (29.64,-24.19)
(29.68,-24.30) (29.74,-24.34) (29.55,-24.40) (29.59,-24.44) (29.74,-24.41) (29.70,-24.48) (30.02,-24.40) (29.82,-24.54) (28.86,-24.50) (29.04,-24.49) (29.09,-24.55) (29.25,-24.64) (28.45,-24.57) (28.51,-24.55) (28.55,-24.51) (28.65,-24.60) (28.17,-24.62)
(28.09,-24.68) (28.17,-24.69) (28.23,-24.67) (28.30,-24.71) (28.41,-24.70) (28.53,-24.67) (27.77,-24.65) (27.84,-24.65) (27.86,-24.65) (27.85,-24.71) (28.02,-24.72) (29.63,-24.66) (29.66,-24.71) (29.70,-24.64) (29.83,-24.69) (29.89,-24.74) (30.52,-24.71)
(28.91,-24.79) (30.00,-24.79) (30.29,-24.79) (27.65,-24.80) (28.06,-24.80) (28.08,-24.81)
%
(31.24,-22.31) (31.52,-22.32) (31.46,-22.37) (31.50,-22.46) (31.19,-22.39) (31.73,-22.37) (31.11,-22.50) (31.01,-22.53) (30.97,-22.57) (30.96,-22.70) (31.02,-22.78) (31.19,-22.74) (31.40,-22.81) (31.51,-22.76) (31.59,-22.85) (31.77,-22.91) (31.86,-22.70) (31.87,-22.79) (31.92,-22.60)
(31.30,-23.11) (31.36,-23.10) (31.54,-23.11) (31.55,-23.18) (31.90,-23.16) (31.88,-23.22) (31.85,-23.30) (31.67,-23.43) (31.69,-23.52) (31.80,-23.52) (31.74,-23.64) (31.69,-23.70) (31.81,-23.80) (31.92,-23.79) (31.88,-23.87) (32.00,-23.86) (32.07,-23.83) (32.11,-23.77) (31.94,-23.69) (31.96,-23.68) (32.06,-23.69)
(32.36,-22.37) (32.40,-22.43) (32.35,-22.47) (32.57,-22.43) (32.55,-22.50) (32.25,-22.70) (32.31,-22.78) (32.49,-22.76) (32.63,-22.72) (32.61,-22.85) (32.70,-22.90) (32.10,-22.89) (32.11,-22.91) (32.28,-22.93) (32.23,-22.98) (32.12,-23.08) (32.53,-23.06) (32.63,-23.11) (32.70,-23.12)
(32.80,-22.93) (32.82,-22.98) (32.84,-22.97) (32.90,-22.56) (32.96,-22.65) (32.80,-22.68) (32.90,-22.83) (33.07,-22.36) (33.09,-22.45) (33.09,-22.56) (33.32,-22.33) (33.43,-22.36) (33.49,-22.41) (33.45,-22.51) (33.52,-22.61) (33.57,-22.32)
(33.36,-22.74) (33.44,-22.85) (33.57,-22.89) (33.66,-22.81) (33.72,-22.70) (33.83,-22.66) (33.80,-22.42) (33.97,-22.44) (34.01,-22.60) (34.08,-22.58) (34.03,-22.69) (33.94,-22.87) (33.64,-22.99) (33.56,-23.07) (33.48,-23.10) (32.99,-23.14)
(32.23,-23.27) (32.53,-23.26) (32.56,-23.25) (32.48,-23.31) (32.69,-23.29) (32.74,-23.23) (32.72,-23.33) (32.96,-23.33) (33.09,-23.28) (33.30,-23.29) (33.36,-23.25) (33.43,-23.24) (33.62,-23.31) (33.70,-23.25) (33.70,-23.31) (33.74,-23.31) (33.69,-23.36) (33.78,-23.39) (33.90,-23.19) (33.88,-23.41) (33.85,-23.49)
(32.19,-23.43) (32.30,-23.45) (32.28,-23.52) (32.45,-23.53) (32.67,-23.46) (32.28,-23.66) (32.32,-23.69) (32.34,-23.75) (32.63,-23.73) (32.65,-23.77) (32.79,-23.61) (33.05,-23.58) (33.53,-23.49) (33.45,-23.60) (33.44,-23.67) (33.49,-23.73) (33.62,-23.60) (33.30,-23.76) (32.96,-23.89) (32.99,-23.93) (33.03,-23.96)
(30.89,-22.69) (30.90,-23.03) (30.83,-23.32) (31.23,-23.55) (31.42,-23.62) (30.86,-23.59) (30.89,-23.68) (30.85,-23.80) (31.02,-23.77) (31.03,-23.77) (31.17,-23.85) (30.96,-23.94) (31.61,-23.87) (31.74,-23.93) (30.83,-24.00) (30.85,-24.08) (31.25,-24.05) (31.17,-24.13) (31.90,-24.00) (31.89,-24.12) (31.92,-24.12)
(30.83,-24.19) (30.98,-24.25) (30.94,-24.32) (31.03,-24.40) (31.15,-24.33) (31.22,-24.37) (31.30,-24.34) (31.36,-24.26) (31.38,-24.19) (31.54,-24.15) (31.61,-24.23) (31.84,-24.28) (31.92,-24.30) (30.88,-24.46) (30.85,-24.50) (31.05,-24.58) (31.13,-24.65) (31.28,-24.61) (31.23,-24.70) (31.34,-24.71)
(31.49,-24.50) (31.49,-24.70) (31.56,-24.69) (31.60,-24.69) (30.89,-24.71) (31.82,-24.65) (32.24,-24.08) (32.09,-24.21) (32.36,-24.32) (32.10,-24.41) (32.32,-24.43) (32.41,-24.43) (32.26,-24.50) (32.49,-24.50) (32.43,-24.57) (32.09,-24.62) (32.07,-24.69) (32.57,-24.63) (32.64,-24.63)
(32.74,-24.48) (32.78,-24.54) (32.80,-24.27) (32.97,-24.15) (32.98,-24.26) (33.17,-23.99) (33.22,-24.08) (33.12,-24.42) (33.16,-24.59) (33.29,-24.48) (33.27,-24.54) (33.39,-24.18) (33.47,-23.90) (33.56,-23.79) (33.59,-23.75) (33.64,-24.20) (33.65,-24.25) (33.75,-23.65) (33.72,-23.87) (33.74,-23.90)
(33.87,-23.92) (33.93,-23.97) (34.11,-23.66) (34.16,-23.92) (34.16,-23.97) (33.96,-24.24) (34.00,-24.32) (33.66,-24.41) (33.68,-24.48) (33.70,-24.53) (33.71,-24.58) (33.90,-24.46) (33.95,-24.44) (33.53,-24.60) (34.05,-24.56) (33.27,-24.73) (33.68,-24.75) (33.97,-24.75) (34.00,-24.73)
(32.05,-24.79) (32.24,-24.78) (32.40,-24.79) (32.57,-24.79) (33.41,-24.79)
%
(34.49,-22.35) (34.50,-22.42) (34.60,-22.39) (34.65,-22.31) (34.68,-22.39) (34.69,-22.50) (34.67,-22.67) (34.91,-22.34) (34.92,-22.44) (35.09,-22.49) (35.09,-22.30) (35.22,-22.30) (35.30,-22.31) (35.17,-22.58) (35.16,-22.64) (35.32,-22.58) (35.43,-22.66) (35.47,-22.69) (35.53,-22.44)
(35.89,-22.59) (36.01,-22.45) (36.07,-22.36) (36.29,-22.35) (36.31,-22.31) (36.42,-22.43) (36.29,-22.47) (36.35,-22.52) (36.33,-22.59) (36.64,-22.47) (36.67,-22.55) (36.64,-22.66) (36.82,-22.36) (36.95,-22.37) (37.06,-22.36) (36.80,-22.55) (36.94,-22.64)
(37.06,-22.51) (37.12,-22.55) (37.21,-22.54) (37.31,-22.48) (37.37,-22.36) (37.40,-22.38) (37.43,-22.56) (37.25,-22.68) (37.12,-22.70) (37.18,-22.74) (37.30,-22.77) (37.10,-22.83) (37.31,-22.30) (37.49,-22.34)
(36.77,-22.76) (36.86,-22.76) (36.55,-22.81) (36.64,-22.83) (36.31,-22.78) (36.25,-22.84) (36.19,-22.94) (36.18,-23.01) (36.24,-23.06) (36.01,-22.79) (35.97,-22.84) (36.06,-22.89) (35.70,-22.78) (35.85,-22.80) (35.86,-22.91) (35.94,-22.97)
(35.66,-22.99) (35.75,-22.97) (35.79,-22.99) (35.70,-23.07) (35.80,-23.12) (35.91,-23.16) (35.95,-23.21) (35.05,-22.87) (35.24,-22.90) (35.40,-22.88) (35.47,-22.85) (35.44,-23.01)
(34.26,-23.09) (34.30,-23.20) (34.76,-23.15) (34.80,-23.20) (34.99,-23.19) (35.14,-23.16) (35.40,-23.18) (35.43,-23.25) (35.60,-23.16) (35.69,-23.24) (35.70,-23.28) (35.73,-23.27) (35.81,-23.34) (36.01,-23.33) (36.09,-23.31) (36.19,-23.19) (36.31,-23.26) (36.40,-23.19)
(36.50,-23.16) (36.53,-23.22) (36.50,-23.25) (36.49,-23.29) (36.50,-23.32) (36.45,-23.36) (36.56,-23.26) (36.64,-23.12) (36.84,-23.24) (36.98,-23.23) (36.98,-23.05) (37.08,-23.01) (37.10,-23.10) (37.36,-23.17)
(36.77,-23.33) (36.71,-23.39) (36.64,-23.43) (36.83,-23.49) (36.91,-23.57) (36.96,-23.40) (37.10,-23.43) (37.14,-23.50) (37.37,-23.40) (37.42,-23.55) (35.20,-23.33) (35.26,-23.33) (35.22,-23.39) (35.36,-23.43) (34.20,-23.41) (34.28,-23.46)
(34.44,-23.54) (34.47,-23.64) (34.38,-23.68) (34.21,-23.61) (35.23,-23.55) (35.34,-23.60) (35.25,-23.70) (35.58,-23.67) (35.47,-23.75) (35.65,-23.81) (35.81,-23.79) (35.73,-23.92) (35.83,-23.92) (36.27,-23.75) (36.56,-23.82) (36.77,-23.81) (36.84,-23.71) (36.66,-23.93)
(37.05,-23.71) (37.16,-23.68) (37.25,-23.73) (37.31,-23.79) (37.37,-23.83) (37.33,-23.68) (37.27,-23.92) (34.83,-23.76) (34.78,-23.87) (34.86,-23.91) (34.43,-23.87) (34.44,-23.94) (34.55,-23.94) (34.58,-24.00) (34.18,-23.92) (34.18,-23.97)
(35.04,-23.96) (35.13,-23.94) (35.22,-23.91) (35.22,-24.02) (34.86,-24.02) (34.87,-24.06) (34.92,-24.08) (34.97,-24.06) (35.08,-24.08) (34.42,-24.03) (34.39,-24.06) (34.38,-24.08) (34.36,-24.10) (34.52,-24.17) (34.55,-24.23) (34.22,-24.33) (34.56,-24.39) (34.65,-24.34) (34.57,-24.53)
(35.01,-24.24) (35.03,-24.31) (35.05,-24.33) (35.01,-24.35) (35.07,-24.38) (34.84,-24.38) (34.90,-24.37) (34.82,-24.54) (35.04,-24.48) (34.99,-24.59) (35.18,-24.46) (35.22,-24.49) (35.32,-24.48) (35.32,-24.54) (35.20,-24.60) (35.25,-24.25) (35.37,-24.21)
(35.61,-24.04) (35.71,-24.09) (35.59,-24.21) (35.68,-24.26) (35.61,-24.31) (35.64,-24.34) (35.55,-24.40) (35.49,-24.64) (35.51,-24.62) (35.72,-24.69) (35.79,-24.48) (35.83,-24.44) (35.82,-24.35) (35.92,-24.33) (35.93,-24.42) (35.86,-24.22) (35.92,-24.55)
(35.93,-24.10) (35.99,-24.11) (36.06,-24.15) (36.02,-24.27) (36.10,-24.31) (36.06,-24.33) (36.06,-24.36) (36.08,-24.44) (36.22,-24.38) (36.22,-24.41) (36.21,-24.53) (36.35,-24.44) (36.37,-24.50) (36.35,-24.54) (36.29,-24.63) (36.37,-24.63) (36.17,-24.73) (36.21,-24.73)
(36.22,-24.02) (36.24,-24.02) (36.45,-24.14) (36.58,-24.04) (36.65,-24.18) (36.64,-24.31) (36.84,-24.14) (37.08,-24.18) (37.33,-24.06) (36.71,-24.50) (36.79,-24.47) (36.63,-24.66) (36.74,-24.76) (37.24,-24.38) (37.25,-24.53) (37.18,-24.58) (37.38,-24.61) (37.48,-24.63)
(36.64,-24.80) (36.95,-24.80) (34.30,-24.70) (34.32,-24.77) (34.38,-24.80) (34.38,-24.56) (34.46,-24.66) (34.49,-24.61) (34.52,-24.74) (34.57,-24.75) (34.64,-24.76) (35.86,-24.77) (35.95,-24.80)
%
(27.65,-24.82) (27.82,-24.83) (27.94,-24.84) (28.01,-24.90) (28.07,-24.82) (28.09,-24.81) (27.60,-24.97) (27.56,-25.03) (27.61,-25.03) (28.04,-25.04) (28.20,-25.05) (28.26,-25.01) (28.38,-25.09) (28.43,-25.13) (28.48,-25.08) (28.50,-24.98) (28.66,-25.01) (28.77,-24.99)
(28.84,-24.86) (28.86,-24.89) (28.91,-24.80) (28.96,-25.13) (29.06,-25.07) (29.09,-25.08) (29.14,-25.02) (29.17,-25.14) (29.19,-25.10) (29.20,-25.23) (29.24,-24.94) (29.32,-24.95) (29.34,-24.85) (29.42,-24.88) (29.36,-25.03) (29.39,-25.05) (29.58,-24.92) (29.74,-24.83) (29.78,-24.93)
(29.55,-25.10) (29.58,-25.18) (29.80,-25.15) (29.77,-25.20) (29.82,-25.21) (29.35,-25.24) (29.30,-25.31) (29.45,-25.29) (29.39,-25.33) (29.36,-25.37) (29.41,-25.41) (29.46,-25.37) (29.53,-25.28) (29.54,-25.37) (29.62,-25.26) (29.68,-25.31)
(29.66,-25.42) (29.71,-25.39) (29.75,-25.47) (29.53,-25.49) (29.59,-25.49) (29.59,-25.56) (29.62,-25.58) (29.58,-25.65) (29.66,-25.68) (29.72,-25.62) (29.84,-25.64) (29.74,-25.72) (29.81,-25.76) (29.84,-25.79) (29.50,-25.83) (29.57,-25.80)
(29.66,-25.87) (29.67,-25.88) (29.68,-25.97) (29.76,-25.93) (29.86,-25.95) (29.39,-25.55) (29.44,-25.57) (29.43,-25.71) (29.93,-25.39) (30.01,-24.83) (30.00,-24.81) (30.17,-24.86) (30.17,-24.91) (30.09,-24.95) (30.29,-24.80) (30.42,-24.96) (30.31,-25.10) (30.41,-25.10) (30.79,-24.85)
(30.59,-25.24) (30.61,-25.28) (30.69,-25.44) (30.07,-25.53) (30.14,-25.54) (30.33,-25.53) (30.32,-25.65) (30.35,-25.76) (30.50,-25.51) (30.57,-25.53) (30.55,-25.59) (30.64,-25.64) (30.81,-25.72) (30.10,-25.77) (30.54,-25.87) (30.47,-25.91) (30.70,-26.00)
(27.63,-25.34) (27.73,-25.37) (27.50,-25.48) (27.99,-25.43) (28.00,-25.43) (28.09,-25.44) (28.11,-25.45) (28.18,-25.45) (28.22,-25.47) (28.02,-25.52) (28.11,-25.60) (27.96,-25.62) (27.88,-25.66) (27.65,-25.77) (27.65,-25.82) (27.52,-25.83) (27.96,-25.87) (28.09,-25.84) (27.94,-25.97) (28.17,-25.97) (28.45,-25.81)
(28.64,-25.34) (28.70,-25.30) (28.70,-25.39) (28.64,-25.56) (28.80,-25.51) (28.65,-25.74) (28.68,-25.82) (28.82,-25.68) (28.80,-25.79) (28.88,-25.79) (28.87,-25.91) (28.97,-25.40) (29.01,-25.45) (29.11,-25.52) (29.09,-25.56) (29.08,-25.95)
(27.54,-26.14) (27.54,-26.16) (27.80,-26.18) (27.88,-26.14) (27.94,-26.18) (27.94,-26.21) (28.06,-26.11) (28.09,-26.04) (28.04,-26.19) (28.05,-26.25) (27.98,-26.32) (28.37,-26.06) (28.40,-26.04) (28.57,-26.10) (28.59,-26.11) (28.84,-26.08) (28.86,-26.04)
(29.18,-26.05) (29.18,-26.17) (29.39,-26.22) (29.60,-26.12) (29.89,-26.10) (29.96,-26.18) (27.65,-26.53) (27.59,-26.65) (27.69,-26.71) (27.69,-26.79) (27.69,-26.89) (27.54,-26.79) (27.73,-26.97) (27.71,-27.02) (27.78,-26.82) (27.82,-26.84) (27.77,-26.86) (27.82,-27.01) (27.90,-26.98)
(27.94,-26.54) (27.96,-26.67) (27.98,-26.73) (27.96,-26.73) (27.94,-26.86) (28.03,-26.80) (28.03,-26.94) (27.66,-27.11) (27.67,-27.18) (28.07,-26.58) (28.07,-26.69) (28.13,-26.48) (28.13,-26.52) (28.18,-26.67) (28.22,-26.72) (28.25,-26.86) (28.24,-26.94) (28.26,-27.11) (28.30,-26.60)
(28.40,-26.37) (28.40,-26.50) (28.63,-26.62) (28.64,-26.62) (28.54,-26.86) (28.61,-26.81) (28.67,-27.09) (28.77,-27.07) (28.88,-27.27) (28.90,-26.58) (28.93,-26.55) (28.97,-26.46) (29.00,-26.37) (28.98,-26.73) (28.95,-26.98) (29.01,-27.11) (29.09,-26.86) (29.13,-26.94) (29.11,-26.68) (29.14,-26.65)
(29.16,-27.06) (29.22,-26.86) (29.24,-26.37) (29.28,-27.21) (29.27,-27.26) (29.37,-26.43) (29.35,-26.93) (29.42,-26.82) (29.43,-27.18) (29.53,-26.62) (29.64,-26.94) (29.68,-26.98) (29.68,-27.01) (29.69,-26.68) (29.77,-26.98) (29.70,-27.25) (29.66,-27.30)
(29.84,-26.73) (29.91,-26.60) (29.97,-26.89) (29.93,-26.97) (30.08,-26.71) (30.12,-26.79) (30.14,-26.53) (30.18,-26.45) (30.05,-27.08) (30.11,-27.00) (30.15,-27.02) (30.11,-27.11) (30.12,-27.22) (30.30,-27.07) (30.35,-27.14) (30.37,-26.86) (30.45,-26.84) (30.46,-26.85)
(30.48,-26.98) (30.56,-27.00) (30.37,-26.43) (30.39,-26.30) (30.61,-26.71) (30.60,-26.22) (30.65,-26.18) (30.66,-26.20) (30.68,-26.22) (30.81,-26.27) (30.77,-26.49) (30.79,-26.47) (30.66,-27.15) (30.81,-27.27) (29.99,-27.30) (27.95,-27.29)
%
(31.41,-24.87) (31.41,-24.91) (31.52,-24.89) (31.84,-24.85) (31.97,-24.95) (31.96,-24.99) (30.98,-25.12) (31.32,-25.10) (31.32,-25.11) (31.63,-25.10) (31.61,-25.23) (31.71,-25.24) (31.84,-25.26) (31.08,-25.34) (30.93,-25.39) (31.32,-25.31)
(31.41,-25.40) (31.33,-25.43) (31.40,-25.49) (31.54,-25.41) (31.60,-25.45) (31.70,-25.40) (31.88,-25.43) (31.85,-25.51) (30.88,-25.58) (31.02,-25.57) (31.11,-25.61) (30.98,-25.68) (31.08,-25.69) (31.21,-25.66) (31.45,-25.68) (31.52,-25.66)
(31.63,-25.60) (31.63,-25.65) (31.69,-25.68) (31.50,-25.76) (31.45,-25.79) (31.54,-25.79) (31.54,-25.87) (31.52,-25.94) (31.25,-25.82) (31.98,-25.72) (31.98,-25.85)
(32.05,-24.80) (32.24,-24.80) (32.40,-24.82) (32.46,-24.84) (32.57,-24.82) (32.67,-24.86) (32.40,-24.93) (32.05,-25.16) (32.06,-25.16) (32.12,-25.20) (32.20,-25.20) (32.37,-25.16) (32.36,-25.24) (32.45,-25.11) (32.52,-25.14) (32.64,-25.15)
(32.38,-25.34) (32.61,-25.31) (32.72,-25.26) (32.74,-25.33) (32.24,-25.45) (32.40,-25.51) (32.59,-25.49) (32.25,-25.66) (32.29,-25.63) (32.38,-25.61) (32.13,-25.74)
(32.86,-24.89) (32.88,-24.93) (32.82,-25.01) (32.88,-25.01) (32.96,-24.85) (33.07,-24.84) (33.25,-24.85) (33.30,-24.88) (33.31,-24.95) (33.43,-24.83) (33.03,-25.14) (33.09,-25.12) (33.18,-25.09) (33.20,-25.20) (32.95,-25.27)
(33.39,-25.16) (33.41,-25.24) (33.49,-25.20) (33.51,-25.18) (33.53,-25.07) (33.36,-25.37) (33.49,-25.44) (33.41,-25.51) (33.64,-24.88) (33.69,-24.96) (33.78,-24.89) (33.87,-24.86) (33.87,-24.92) (33.66,-25.27) (33.82,-25.33) (33.84,-25.44) (33.87,-25.48) (33.91,-25.52)
(33.67,-25.52) (34.02,-24.91) (34.10,-24.91) (34.14,-25.12) (34.06,-25.27) (34.03,-25.56) (33.99,-25.70)
(32.09,-25.95) (32.19,-25.95) (32.36,-25.95) (32.42,-25.92) (32.48,-25.87) (32.63,-25.82) (32.74,-25.87) (32.90,-25.93) (32.88,-26.00) (32.93,-25.81) (33.34,-25.70) (33.29,-25.76) (33.27,-25.87) (33.28,-25.97) (33.37,-25.89)
(33.51,-25.90) (33.59,-25.91) (33.60,-25.81) (33.63,-25.83) (33.63,-25.70) (33.71,-25.85) (33.93,-25.89) (34.01,-25.98) (33.49,-26.00) (33.52,-25.99) (33.52,-26.03) (33.70,-26.02) (33.85,-26.00) (33.90,-26.01) (33.93,-26.08) (33.74,-26.12)
(33.58,-26.20) (33.85,-26.21) (33.78,-26.28) (33.49,-26.31) (33.64,-26.37) (33.83,-26.44) (33.95,-26.46) (33.76,-26.51) (33.58,-26.53) (33.37,-26.53) (33.38,-26.52) (33.47,-26.63) (33.36,-26.68) (33.27,-26.77)
(34.05,-26.36) (34.09,-26.45) (34.15,-26.35) (34.06,-26.57) (34.05,-26.66) (34.15,-26.60) (32.70,-26.05) (32.70,-26.14) (32.84,-26.18) (33.06,-26.06) (33.07,-26.08) (33.18,-26.18) (33.23,-26.12) (32.97,-26.27)
(33.18,-26.29) (33.14,-26.33) (33.21,-26.39) (32.97,-26.49) (32.57,-26.23) (32.36,-26.13) (32.17,-26.17) (32.15,-26.21) (32.50,-26.61) (32.68,-26.72) (32.82,-26.87) (32.04,-26.56) (32.07,-26.60)
(32.32,-26.97) (32.39,-27.00) (32.32,-27.08) (32.34,-27.18) (32.58,-26.93) (32.60,-27.02) (32.76,-27.11) (32.78,-27.13) (32.61,-27.27) (32.88,-27.24) (32.86,-27.27) (33.22,-27.25) (33.30,-27.25) (33.39,-27.02) (33.46,-27.20) (33.46,-27.28)
(33.51,-26.82) (33.57,-26.79) (33.55,-26.89) (33.66,-26.79) (33.76,-26.80) (33.87,-26.83) (33.57,-27.00) (33.64,-27.02) (33.68,-26.96) (33.76,-27.00) (33.59,-27.10) (33.81,-27.23) (34.13,-27.19)
(30.92,-26.12) (31.06,-26.08) (31.46,-26.08) (31.71,-26.09) (31.69,-26.14) (31.91,-26.09) (31.86,-26.21) (31.87,-26.21) (31.96,-26.18) (31.25,-26.26) (31.38,-26.33) (31.54,-26.27) (31.71,-26.31) (31.95,-26.32) (31.82,-26.37) (31.84,-26.40)
(31.05,-26.41) (31.00,-26.46) (31.06,-26.46) (31.06,-26.49) (31.44,-26.46) (31.42,-26.50) (31.10,-26.58) (31.07,-26.68) (31.33,-26.60) (31.35,-26.67) (31.22,-26.77) (31.23,-26.80) (31.31,-26.77) (31.07,-26.93) (31.11,-26.99)
(31.26,-26.92) (31.32,-26.95) (31.37,-26.98) (31.38,-27.02) (31.67,-26.96) (31.80,-26.95) (31.75,-27.06) (31.73,-27.10) (30.98,-27.06) (30.98,-27.13) (30.94,-27.16) (31.16,-27.11) (31.25,-27.18) (31.36,-27.15) (31.38,-27.19) (31.09,-27.26) (31.63,-27.25) (31.69,-27.24) (31.90,-27.19) (31.87,-27.22)
%
(34.38,-24.82) (34.23,-24.90) (34.31,-24.93) (34.47,-24.89) (34.44,-25.01) (34.32,-25.07) (34.63,-24.96) (34.65,-25.05) (34.70,-24.91) (35.05,-24.93) (35.03,-24.97) (35.41,-24.85) (35.47,-24.96) (35.62,-24.94) (35.86,-24.80) (35.95,-24.81)
(35.89,-24.99) (35.95,-25.03) (35.72,-25.07) (35.76,-25.11) (35.96,-25.12) (35.95,-25.21) (34.26,-25.20) (34.30,-25.19) (34.21,-25.27) (34.22,-25.30) (34.17,-25.41) (34.58,-25.18) (34.71,-25.28) (34.86,-25.18)
(34.95,-25.16) (34.96,-25.24) (35.03,-25.23) (35.07,-25.21) (35.03,-25.30) (35.04,-25.34) (35.03,-25.45) (35.05,-25.43) (35.15,-25.13) (35.23,-25.18) (35.32,-25.19) (35.37,-25.14) (35.39,-25.14) (35.43,-25.19) (35.51,-25.13) (35.55,-25.09)
(35.22,-25.30) (35.22,-25.35) (35.20,-25.39) (35.14,-25.34) (35.11,-25.41) (35.39,-25.31) (35.33,-25.43) (35.43,-25.47) (35.53,-25.36) (35.57,-25.32) (35.64,-25.33) (35.65,-25.23) (35.75,-25.32) (35.74,-25.40) (35.83,-25.26)
(34.44,-25.37) (34.49,-25.37) (34.53,-25.51) (34.45,-25.52) (34.42,-25.57) (34.43,-25.62) (34.74,-25.65) (34.82,-25.43) (34.84,-25.39) (34.81,-25.56) (34.86,-25.60) (34.94,-25.50) (34.97,-25.52) (35.03,-25.56) (35.07,-25.62) (35.13,-25.52)
(35.27,-25.58) (35.30,-25.63) (35.24,-25.71) (35.56,-25.56) (35.55,-25.60) (35.59,-25.64) (35.66,-25.64) (35.66,-25.69) (35.73,-25.70) (35.60,-25.77) (35.91,-25.70)
(34.23,-25.80) (34.24,-25.84) (34.21,-25.87) (34.20,-25.93) (34.31,-25.91) (34.43,-25.89) (34.58,-25.83) (34.84,-25.77) (34.98,-25.77) (34.98,-25.93) (35.07,-25.83) (35.13,-25.76) (35.29,-25.88) (35.39,-25.89) (35.48,-25.91) (35.81,-25.85)
(34.60,-25.95) (34.64,-25.95) (34.65,-26.02) (34.71,-26.00) (34.53,-26.02) (34.57,-26.08) (34.72,-26.07) (34.49,-26.12) (34.20,-26.16) (34.32,-26.15) (34.78,-26.14) (34.82,-26.16) (34.81,-26.18) (35.01,-26.04) (35.20,-26.00) (35.22,-26.07)
(35.36,-26.05) (35.40,-26.14) (35.65,-26.00) (35.66,-26.00) (36.00,-25.98) (35.07,-26.22) (34.43,-26.29) (34.71,-26.30) (34.85,-26.27) (35.35,-26.31) (35.64,-26.27) (35.84,-26.20) (35.82,-26.23)
(34.18,-26.35) (34.59,-26.44) (34.68,-26.43) (34.79,-26.43) (34.93,-26.46) (34.95,-26.41) (34.42,-26.50) (34.53,-26.52) (34.54,-26.55) (34.56,-26.63) (34.20,-26.60) (34.25,-26.64) (34.30,-26.60) (34.41,-26.61) (34.41,-26.62)
(34.49,-26.70) (34.44,-26.75) (34.29,-26.75) (34.74,-26.63) (34.94,-26.69) (35.34,-26.65) (35.47,-26.55) (35.60,-26.51) (35.78,-26.50) (35.78,-26.62) (35.97,-26.49) (35.98,-26.49)
(36.03,-26.26) (36.12,-26.13) (36.16,-26.24) (36.23,-26.21) (36.37,-26.15) (36.13,-26.44) (36.27,-26.51) (36.31,-26.46) (36.43,-26.38) (36.64,-26.16) (36.70,-26.12) (36.70,-26.14) (36.81,-26.04) (36.84,-26.31)
(36.98,-26.30) (37.00,-26.33) (36.94,-26.36) (37.00,-26.07) (37.14,-26.25) (37.20,-26.10) (37.24,-26.00) (37.31,-26.02) (37.32,-26.05) (37.35,-26.11) (37.40,-26.15) (37.39,-26.08) (37.33,-26.39) (37.33,-26.45) (37.39,-26.42) (37.48,-26.48) (37.46,-26.53)
(36.31,-25.99) (36.04,-25.16) (36.08,-25.26) (36.12,-25.26) (36.13,-25.42) (36.19,-25.42) (36.12,-25.54) (36.21,-25.12) (36.23,-25.08) (36.21,-25.20) (36.22,-25.28) (36.20,-24.89) (36.26,-25.47) (36.30,-25.48) (36.37,-25.35) (36.36,-25.26)
(36.40,-25.18) (36.47,-25.26) (36.49,-25.12) (36.49,-25.11) (36.53,-24.96) (36.57,-25.01) (36.53,-25.30) (36.50,-25.50) (36.41,-25.57) (36.45,-25.56) (36.42,-25.64) (36.36,-25.75) (36.29,-25.81) (36.08,-25.81) (36.12,-25.72) (36.18,-25.72) (36.60,-25.60)
(36.64,-24.82) (36.70,-24.87) (36.70,-24.91) (36.72,-25.01) (36.78,-25.06) (36.64,-25.11) (36.71,-25.12) (36.73,-25.29) (36.74,-25.51) (36.81,-25.52) (36.77,-25.67) (36.77,-25.72) (36.65,-25.74) (36.67,-25.79) (36.68,-25.80) (36.75,-25.89) (36.58,-25.97) (36.66,-25.95)
(36.85,-25.20) (36.92,-25.12) (37.02,-25.18) (37.03,-25.28) (37.03,-25.36) (36.96,-25.45) (37.04,-25.55) (36.99,-25.66) (37.03,-25.79) (36.98,-25.84) (36.94,-25.88) (37.04,-25.87) (37.17,-24.97) (37.25,-25.10)
(37.19,-25.42) (37.21,-25.42) (37.31,-25.46) (37.32,-25.56) (37.31,-25.60) (37.29,-25.64) (37.33,-25.74) (37.33,-25.85) (37.20,-25.79) (37.23,-25.78) (37.48,-25.26)
(37.20,-26.61) (37.20,-26.62) (37.21,-26.68) (37.19,-26.75) (37.06,-26.58) (37.11,-26.60) (37.39,-26.58) (37.39,-26.69) (37.40,-26.70) (37.35,-26.75) (37.25,-26.84) (37.28,-26.93) (37.43,-26.92) (37.46,-26.97) (37.40,-27.02)
(37.02,-26.75) (36.93,-26.77) (36.81,-26.62) (36.65,-26.58) (36.53,-26.57) (36.48,-26.57) (36.64,-26.74) (36.59,-26.77) (36.47,-26.79) (36.44,-26.85) (36.41,-27.05) (36.33,-26.87) (36.24,-26.65) (36.27,-26.68)
(36.04,-26.92) (36.06,-26.95) (36.13,-27.03) (36.18,-27.09) (36.19,-27.23) (36.29,-27.27) (36.45,-27.21) (36.51,-27.27) (36.69,-27.00) (36.80,-26.97) (36.85,-27.04) (36.68,-27.14) (36.92,-27.09) (36.89,-27.14)
(37.00,-26.92) (36.98,-26.98) (37.02,-27.00) (37.03,-26.94) (37.00,-27.12) (37.04,-27.18) (36.82,-27.17) (36.84,-27.23) (36.90,-27.26) (36.68,-27.25) (37.06,-27.28) (37.12,-27.29) (37.31,-27.24)
(35.98,-27.09) (36.03,-27.19) (36.00,-27.22) (35.90,-27.06) (35.94,-27.00) (35.79,-26.86) (35.79,-27.01) (35.69,-27.13) (35.57,-27.23) (35.51,-27.29) (35.65,-26.73) (35.51,-26.75) (35.48,-26.90) (35.55,-27.00) (35.55,-27.04) (35.55,-27.02)
(35.41,-26.97) (35.38,-27.10) (35.32,-26.75) (35.17,-26.78) (35.08,-26.83) (35.04,-26.94) (35.05,-27.01) (35.22,-27.29) (34.92,-27.23) (34.84,-26.80) (34.83,-26.85) (34.88,-26.82) (34.85,-26.88) (34.83,-26.92) (34.77,-26.96)
(34.67,-26.89) (34.78,-27.08) (34.53,-26.96) (34.36,-27.00) (34.29,-27.02) (34.49,-27.08) (34.66,-27.17) (34.58,-27.21)
};

% catalogue sources
\addplot[only marks, mark=*, mark size=1.6pt, color=cbblue, mark options={fill=cbblue, draw opacity=0}]
coordinates {
(29.37,-17.69) (32.64,-17.26) (34.30,-19.53) (30.98,-19.98) (27.68,-20.41) (36.00,-21.84) (32.66,-22.26)
(29.30,-22.72) (34.43,-24.60) (31.04,-25.02) (28.04,-25.70) (36.00,-26.56) (33.40,-27.30)
};

% target
\addplot[only marks, mark=*, mark size=2.75pt, color=white, mark options={fill=white, draw opacity=0}]
coordinates {(31.50,-23.01)};

\end{axis}
\path ([shift={(-46.75pt,-34.25pt)}]current axis.south west) rectangle ([shift={(3.5pt,3.25pt)}]current axis.north east);
\end{tikzpicture}
\end{document}
